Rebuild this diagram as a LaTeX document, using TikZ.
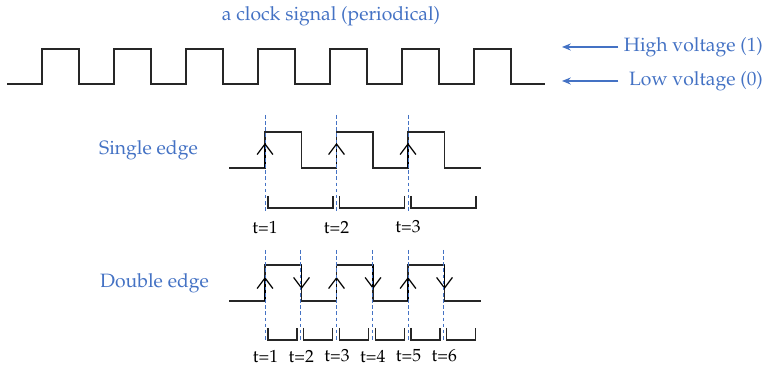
\documentclass[tikz,border=0pt]{standalone}
\usepackage[T1]{fontenc}
\usepackage{mathpazo}
\usepackage{tikz}
\usetikzlibrary{arrows.meta,positioning}
\definecolor{voltblue}{RGB}{68,114,196}

\begin{document}
\begin{tikzpicture}[
  x=0.02cm, y=-0.02cm,
  sig/.style={draw=black!85, line width=0.8pt, line join=miter},
  lbl/.style={text=voltblue, font=\fontsize{11}{13}\selectfont, inner sep=1pt},
  varr/.style={-{Stealth[length=5pt,width=4pt]}, draw=voltblue, line width=0.7pt},
  edgearr/.style={-{Straight Barb[length=6pt,width=9pt]}, draw=black, line width=0.7pt},
  guide/.style={draw=voltblue, line width=0.4pt, dash pattern=on 2pt off 1.5pt},
  tick/.style={draw=black!85, line width=0.8pt},
  tlbl/.style={font=\normalsize, inner sep=1pt}
]
\useasboundingbox (0,0) rectangle (770,367);

% clock signal at the top
\node[lbl] (title) at (331,16) {a clock signal (periodical)};
\draw[sig] (7,84)
  \foreach \i in {0,...,6} { -- ({42+72*\i},84) -- ({42+72*\i},49) -- ({79+72*\i},49) -- ({79+72*\i},84) }
  -- (545,84);

\node[lbl, anchor=east] (high) at (765,47) {High voltage (1)};
\node[lbl, anchor=east] (low) at (765,81) {Low voltage (0)};
\coordinate (hightip) at (562,47);
\coordinate (lowtip) at (562,81);
\draw[varr] ([xshift=-2pt]high.west) -- (hightip);
\draw[varr] ([xshift=-2pt]low.west -| high.west) -- (lowtip);

% single edge
\node[lbl] (single) at (148.5,150) {Single edge};
\draw[sig] (229,168)
  \foreach \i in {0,1,2} { -- ({265+71.5*\i},168) -- ({265+71.5*\i},132) -- ({301.5+71.5*\i},132) -- ({301.5+71.5*\i},168) }
  -- (481,168);
\foreach \i in {0,1,2} {
  \coordinate (su\i) at ({265+71.5*\i},143);
  \draw[edgearr] ({265+71.5*\i},168) -- (su\i);
  \draw[guide] ({265+71.5*\i},115) -- ({265+71.5*\i},211);
  \draw[tick] ({268+71.5*\i},196) -- ({268+71.5*\i},208) -- ({333+71.5*\i},208) -- ({333+71.5*\i},196);
}
\foreach \i/\t in {0/1,1/2,2/3}
  \node[tlbl] (st\t) at ({265+71.5*\i},227) {t=\t};

% double edge
\node[lbl] (double) at (154.5,283) {Double edge};
\draw[sig] (229,301)
  \foreach \i in {0,1,2} { -- ({265+71.5*\i},301) -- ({265+71.5*\i},265) -- ({301.5+71.5*\i},265) -- ({301.5+71.5*\i},301) }
  -- (481,301);
\foreach \i in {0,1,2} {
  \coordinate (du\i) at ({265+71.5*\i},277);
  \coordinate (dd\i) at ({301.5+71.5*\i},289);
  \draw[edgearr] ({265+71.5*\i},301) -- (du\i);
  \draw[edgearr] ({301.5+71.5*\i},265) -- (dd\i);
}
\foreach \i in {0,...,5} {
  \draw[guide] ({265+35.75*\i},250) -- ({265+35.75*\i},342);
  \draw[tick] ({268+35.75*\i},328) -- ({268+35.75*\i},340) -- ({297+35.75*\i},340) -- ({297+35.75*\i},328);
}
\foreach \i/\t in {0/1,1/2,2/3,3/4,4/5,5/6}
  \node[tlbl] (dt\t) at ({265.5+35.75*\i},356) {t=\t};
\end{tikzpicture}
\end{document}
